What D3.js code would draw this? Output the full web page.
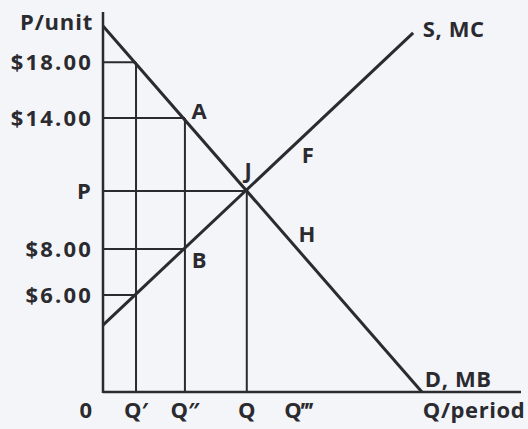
<!DOCTYPE html>
<html>
<head>
<meta charset="utf-8">
<script src="https://cdn.jsdelivr.net/npm/d3@7"></script>
<style>
  body { margin: 0; background: #f4f5f9; }
  svg text { font-family: "Open Sans", sans-serif; font-weight: 700; fill: #2a2a2f; }
</style>
</head>
<body>
<div id="chart"></div>
<script>
// curvas (unidades esquemáticas, sem escala real de preço)
const demand = [{q: 0, p: 9.63}, {q: 7.63, p: 0}];
const supply = [{q: 0, p: 1.76}, {q: 7.42, p: 9.45}];

// níveis de preço e quantidade marcados nos eixos
const priceLabels = ["$18.00", "$14.00", "P", "$8.00", "$6.00"];
const priceLevels = [8.68, 7.21, 5.29, 3.76, 2.55];
const priceReachQ = [0.79, 1.96, 3.44, 1.96, 0.79];

const qtyLabels = ["0", "Q\u2032", "Q\u2033", "Q", "Q\u2034"];
const qtyLevels = [-0.41, 0.79, 1.96, 3.44, 4.67];
// linhas verticais: quantidade e preço até onde sobem
const vertQ = [0.79, 1.96, 3.44];
const vertP = [8.68, 7.21, 5.29];

// pontos nomeados
const pointLabels = ["A", "B", "J", "F", "H"];
const pointQ = [2.30, 2.30, 3.47, 4.90, 4.88];
const pointP = [7.39, 3.47, 5.84, 6.24, 4.16];

const W = 528, H = 429;
const margin = {top: 12, right: 7, bottom: 37, left: 103};
const ink = "#2a2a2f";

const svg = d3.select("#chart").append("svg")
    .attr("width", W)
    .attr("height", H);

const x = d3.scaleLinear().domain([0, 10]).range([margin.left, W - margin.right]);
const y = d3.scaleLinear().domain([0, 10]).range([H - margin.bottom, margin.top]);

// linhas guia horizontais
svg.selectAll(".hguide")
    .data(priceLevels)
    .enter()
    .append("line")
    .attr("x1", x(0))
    .attr("x2", (d, i) => x(priceReachQ[i]))
    .attr("y1", d => y(d))
    .attr("y2", d => y(d))
    .attr("stroke", ink)
    .attr("stroke-width", 2);

// linhas guia verticais
svg.selectAll(".vguide")
    .data(vertQ)
    .enter()
    .append("line")
    .attr("x1", d => x(d))
    .attr("x2", d => x(d))
    .attr("y1", y(0))
    .attr("y2", (d, i) => y(vertP[i]))
    .attr("stroke", ink)
    .attr("stroke-width", 2);

// curvas de oferta e demanda
const line = d3.line()
    .x(d => x(d.q))
    .y(d => y(d.p));

svg.selectAll(".curve")
    .data([demand, supply])
    .enter()
    .append("path")
    .attr("fill", "none")
    .attr("stroke", ink)
    .attr("stroke-width", 3)
    .attr("d", d => line(d));

// eixos
svg.append("line")
    .attr("x1", x(0)).attr("x2", x(0))
    .attr("y1", y(0) + 1).attr("y2", y(10))
    .attr("stroke", ink).attr("stroke-width", 2.5);
svg.append("line")
    .attr("x1", x(0)).attr("x2", x(10))
    .attr("y1", y(0)).attr("y2", y(0))
    .attr("stroke", ink).attr("stroke-width", 2.5);

// rótulos de preço
svg.selectAll(".plabel")
    .data(priceLabels)
    .enter()
    .append("text")
    .attr("x", x(0) - 10)
    .attr("y", (d, i) => y(priceLevels[i]) + 8)
    .attr("text-anchor", "end")
    .style("font-size", "22px")
    .style("letter-spacing", "2.2px")
    .text(d => d);

svg.append("text")
    .attr("x", x(0) - 10)
    .attr("y", y(10) + 18)
    .attr("text-anchor", "end")
    .style("font-size", "22px")
    .style("letter-spacing", "0.8px")
    .text("P/unit");

// rótulos de quantidade
svg.selectAll(".qlabel")
    .data(qtyLabels)
    .enter()
    .append("text")
    .attr("x", (d, i) => x(qtyLevels[i]))
    .attr("y", y(0) + 26)
    .attr("text-anchor", "middle")
    .style("font-size", "22px")
    .text(d => d);

svg.append("text")
    .attr("x", x(7.65))
    .attr("y", y(0) + 26)
    .style("font-size", "22px")
    .style("letter-spacing", "0.6px")
    .text("Q/period");

// rótulos das curvas
svg.append("text")
    .attr("x", x(7.65))
    .attr("y", y(9.45) + 4)
    .style("font-size", "22px")
    .style("letter-spacing", "0.6px")
    .text("S, MC");

svg.append("text")
    .attr("x", x(7.7))
    .attr("y", y(0) - 5)
    .style("font-size", "22px")
    .style("letter-spacing", "0.6px")
    .text("D, MB");

// pontos
svg.selectAll(".pt")
    .data(pointLabels)
    .enter()
    .append("text")
    .attr("x", (d, i) => x(pointQ[i]))
    .attr("y", (d, i) => y(pointP[i]) + 8)
    .attr("text-anchor", "middle")
    .style("font-size", "22px")
    .text(d => d);
</script>
</body>
</html>
